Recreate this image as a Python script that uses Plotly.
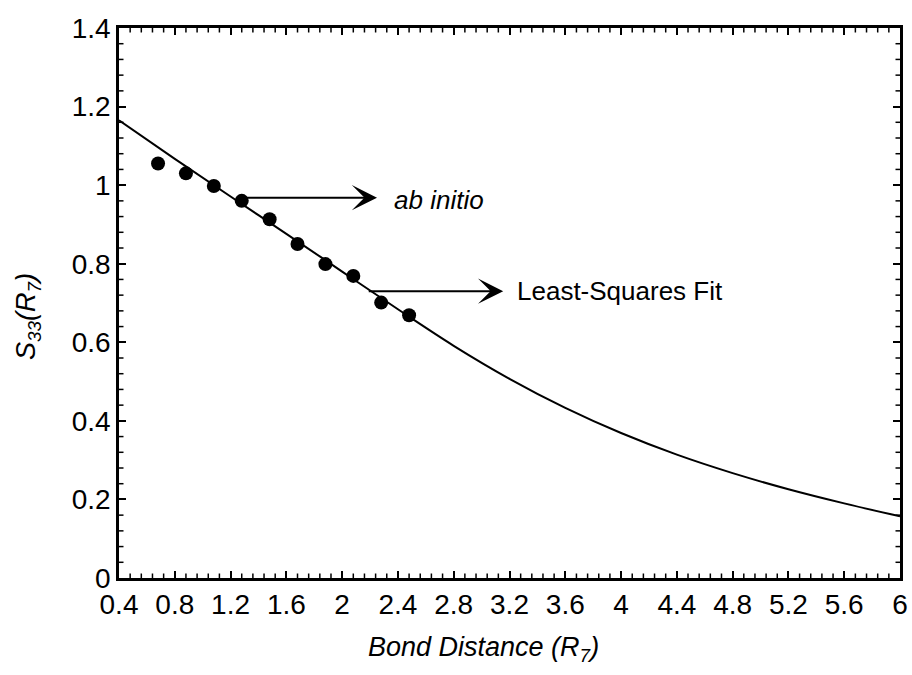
import plotly.graph_objects as go

# ab initio values of S33 as a function of the bond distance R7
ab_initio_r = [0.68, 0.88, 1.08, 1.28, 1.48, 1.68, 1.88, 2.08, 2.28, 2.48]
ab_initio_s = [1.055, 1.030, 0.998, 0.960, 0.913, 0.850, 0.799, 0.769, 0.701, 0.669]

# least-squares fitted curve, sampled along the bond-distance axis
fit_r = [0.4, 0.8, 1.2, 1.6, 2.0, 2.4, 2.8, 3.2, 3.6, 4.0, 4.4, 4.8, 5.2, 5.6, 6.0]
fit_s = [1.165, 1.067, 0.971, 0.876, 0.780, 0.684, 0.591, 0.507, 0.433, 0.369,
         0.314, 0.267, 0.226, 0.190, 0.157]

# labelled tick positions; five minor steps between neighbouring labels
x_ticks = [0.4, 0.8, 1.2, 1.6, 2.0, 2.4, 2.8, 3.2, 3.6, 4.0, 4.4, 4.8, 5.2, 5.6, 6.0]
y_ticks = [0, 0.2, 0.4, 0.6, 0.8, 1.0, 1.2, 1.4]
MINOR_STEPS = 5
MINOR_LEN = 4.5

FONT = "Liberation Sans, Arial, Helvetica, sans-serif"

fig = go.Figure()
fig.add_trace(go.Scatter(
    x=fit_r, y=fit_s, mode="lines",
    line=dict(color="black", width=2, shape="spline", smoothing=1),
    showlegend=False, hoverinfo="skip",
))
fig.add_trace(go.Scatter(
    x=ab_initio_r, y=ab_initio_s, mode="markers",
    marker=dict(color="black", size=14, symbol="circle"),
    showlegend=False,
))

axis_common = dict(
    showgrid=False, zeroline=False, automargin=False,
    showline=True, linecolor="black", linewidth=2.5, mirror="allticks",
    ticks="inside", ticklen=7, tickwidth=2, tickcolor="black",
    tickfont=dict(family=FONT, size=28, color="black"),
)
fig.update_xaxes(range=[x_ticks[0], x_ticks[-1]], tickmode="array",
                 tickvals=x_ticks, **axis_common)
fig.update_yaxes(range=[y_ticks[0], y_ticks[-1]], tickmode="array",
                 tickvals=y_ticks, **axis_common)


def minor_positions(vals):
    out = []
    for a, b in zip(vals[:-1], vals[1:]):
        out += [a + (b - a) * k / MINOR_STEPS for k in range(1, MINOR_STEPS)]
    return out


# minor tick marks on all four frame edges, as short pixel-length segments
tick_line = dict(color="black", width=1.5)
for v in minor_positions(x_ticks):
    for anchor, length in ((y_ticks[0], MINOR_LEN), (y_ticks[-1], -MINOR_LEN)):
        fig.add_shape(type="line", xref="x", yref="y", ysizemode="pixel",
                      yanchor=anchor, x0=v, x1=v, y0=0, y1=length,
                      line=tick_line, layer="above")
for v in minor_positions(y_ticks):
    for anchor, length in ((x_ticks[0], MINOR_LEN), (x_ticks[-1], -MINOR_LEN)):
        fig.add_shape(type="line", xref="x", yref="y", xsizemode="pixel",
                      xanchor=anchor, x0=0, x1=length, y0=v, y1=v,
                      line=tick_line, layer="above")

# pointer arrows and their labels
fig.add_annotation(x=2.25, y=0.968, ax=1.29, ay=0.968, xref="x", yref="y",
                   axref="x", ayref="y", text="", showarrow=True,
                   arrowhead=3, arrowsize=2.1, arrowwidth=2, arrowcolor="black")
fig.add_annotation(x=2.36, y=0.962, xref="x", yref="y", text="<i>ab initio</i>",
                   showarrow=False, xanchor="left", yanchor="middle",
                   font=dict(family=FONT, size=26, color="black"))
fig.add_annotation(x=3.155, y=0.730, ax=2.18, ay=0.730, xref="x", yref="y",
                   axref="x", ayref="y", text="", showarrow=True,
                   arrowhead=3, arrowsize=2.1, arrowwidth=2, arrowcolor="black")
fig.add_annotation(x=3.24, y=0.731, xref="x", yref="y", text="Least-Squares Fit",
                   showarrow=False, xanchor="left", yanchor="middle",
                   font=dict(family=FONT, size=26, color="black"))

# axis titles
fig.add_annotation(x=0.467, y=-0.129, xref="paper", yref="paper",
                   text="<i>Bond Distance (R<sub>7</sub>)</i>", showarrow=False,
                   xanchor="center", yanchor="middle",
                   font=dict(family=FONT, size=27, color="black"))
fig.add_annotation(x=-0.1165, y=0.4745, xref="paper", yref="paper",
                   text="<i>S<sub>33</sub>(R<sub>7</sub>)</i>", showarrow=False,
                   textangle=-90, xanchor="center", yanchor="middle",
                   font=dict(family=FONT, size=27, color="black"))

fig.update_layout(
    width=912, height=675,
    margin=dict(l=119, r=12, t=28, b=97, autoexpand=False),
    paper_bgcolor="white", plot_bgcolor="white",
    font=dict(family=FONT, color="black"),
)

fig.write_html("out.html")
